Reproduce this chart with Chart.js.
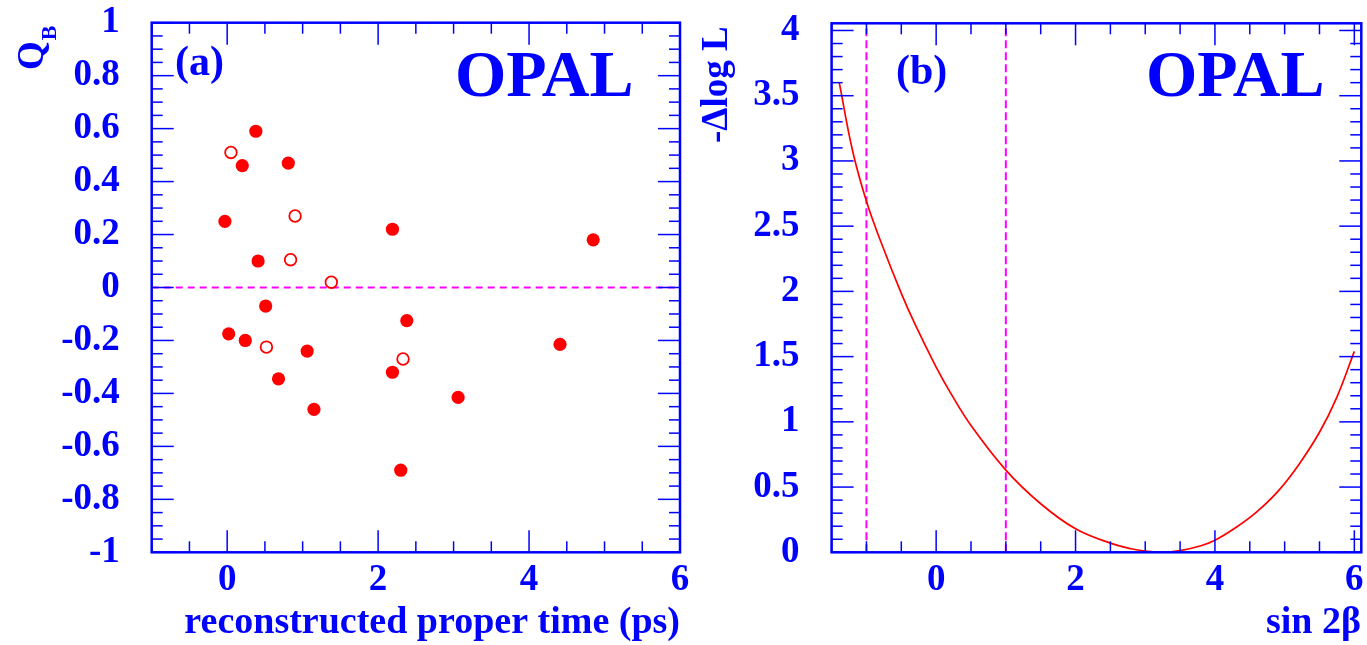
<!DOCTYPE html>
<html>
<head>
<meta charset="utf-8">
<script src="https://cdn.jsdelivr.net/npm/chart.js@4.4.1/dist/chart.umd.min.js"></script>
<style>
  html, body { margin: 0; padding: 0; background: #fff; }
  canvas { position: absolute; top: 0; }
</style>
</head>
<body>
<canvas id="panelA" width="700" height="645" style="left:0"></canvas>
<canvas id="panelB" width="667" height="645" style="left:700px"></canvas>
<script>
// (a) carga del mesón B frente al tiempo propio reconstruido
const filledTime = [0.38, 0.20, 0.81, -0.03, 2.19, 0.41, 0.51, 2.38, 0.02, 0.24, 1.06, 0.68, 1.15, 2.19, 2.30, 3.06, 4.85, 4.41];
const filledQ    = [0.59, 0.46, 0.47, 0.25, 0.22, 0.10, -0.07, -0.125, -0.175, -0.20, -0.24, -0.345, -0.46, -0.32, -0.69, -0.415, 0.18, -0.215];
const openTime   = [0.05, 0.90, 0.84, 1.38, 0.52, 2.33];
const openQ      = [0.51, 0.27, 0.105, 0.02, -0.225, -0.27];
const zeroLineT  = [-1, 6];

// (b) curva de -Δlog L frente a sin 2β
const sin2b  = [-1.39, -1.2, -1.0, -0.8, -0.5, -0.3, 0.0, 0.2, 0.5, 1.0, 1.5, 2.0, 2.5, 2.8, 3.0, 3.25, 3.5, 3.8, 4.0, 4.3, 4.6, 4.9, 5.2, 5.5, 5.75, 6.0];
const dlogL  = [3.60, 3.08, 2.69, 2.39, 1.985, 1.745, 1.42, 1.228, 0.972, 0.63, 0.372, 0.18, 0.07, 0.027, 0.01, 0.0, 0.013, 0.05, 0.092, 0.19, 0.31, 0.465, 0.67, 0.92, 1.19, 1.54];
const limitLines = [-1, 1];

// etiquetas de los ejes
const qTicks   = [-1, -0.8, -0.6, -0.4, -0.2, 0, 0.2, 0.4, 0.6, 0.8, 1];
const tTicks   = [0, 2, 4, 6];
const lTicks   = [0, 0.5, 1, 1.5, 2, 2.5, 3, 3.5, 4];
const sTicks   = [0, 2, 4, 6];

const BLUE = '#0000ff';
const RED = '#ff0000';
const MAGENTA = '#ff00ff';
const SERIF = '"Liberation Serif", "Times New Roman", serif';

function pts(xs, ys) {
	return xs.map((x, i) => ({ x: x, y: ys[i] }));
}

function tickFont() {
	return { family: SERIF, size: 37, weight: 'bold', lineHeight: 1 };
}

// marco con marcas hacia dentro, como en ROOT
const frameTicks = {
	id: 'frameTicks',
	afterDatasetsDraw(chart, args, o) {
		const { ctx, chartArea: a, scales } = chart;
		const x = scales.x, y = scales.y;
		ctx.save();
		ctx.strokeStyle = BLUE;
		ctx.lineWidth = 1.5;
		function seg(x1, y1, x2, y2) {
			ctx.beginPath(); ctx.moveTo(x1, y1); ctx.lineTo(x2, y2); ctx.stroke();
		}
		function isMajor(v, step) {
			return Math.abs(v / step - Math.round(v / step)) < 1e-6;
		}
		let start = Math.ceil(x.min / o.xMinor - 1e-6) * o.xMinor;
		let n = Math.floor((x.max - start) / o.xMinor + 1e-6);
		for (let i = 0; i <= n; i++) {
			const v = start + i * o.xMinor;
			const px = x.getPixelForValue(v);
			const len = isMajor(v, o.xMajor) ? 22 : 11;
			seg(px, a.bottom, px, a.bottom - len);
			seg(px, a.top, px, a.top + len);
		}
		start = Math.ceil(y.min / o.yMinor - 1e-6) * o.yMinor;
		n = Math.floor((y.max - start) / o.yMinor + 1e-6);
		for (let i = 0; i <= n; i++) {
			const v = start + i * o.yMinor;
			const py = y.getPixelForValue(v);
			const len = isMajor(v, o.yMajor) ? 22 : 11;
			seg(a.left, py, a.left + len, py);
			seg(a.right, py, a.right - len, py);
		}
		ctx.lineWidth = 2.5;
		ctx.strokeRect(a.left, a.top, a.right - a.left, a.bottom - a.top);
		ctx.restore();
	}
};

// textos sueltos: títulos, (a)/(b), OPAL
const labels = {
	id: 'labels',
	afterDraw(chart, args, o) {
		const ctx = chart.ctx;
		ctx.save();
		ctx.fillStyle = BLUE;
		ctx.textBaseline = 'alphabetic';
		o.items.forEach(t => {
			ctx.save();
			ctx.font = 'bold ' + t.size + 'px ' + SERIF;
			ctx.textAlign = t.align || 'left';
			ctx.translate(t.x, t.y);
			if (t.rotate) ctx.rotate(-Math.PI / 2);
			ctx.fillText(t.text, 0, 0);
			if (t.sub) {
				const w = ctx.measureText(t.text).width;
				ctx.font = 'bold ' + t.sub.size + 'px ' + SERIF;
				ctx.fillText(t.sub.text, w + 1, t.sub.dy);
			}
			ctx.restore();
		});
		ctx.restore();
	}
};

function axisX(min, max, ticks, h) {
	return {
		type: 'linear', min: min, max: max,
		grid: { display: false, drawTicks: false },
		border: { display: false },
		ticks: { font: tickFont(), color: BLUE, padding: 10, maxRotation: 0, autoSkip: false },
		afterBuildTicks: (axis) => { axis.ticks = ticks.map(v => ({ value: v })); },
		afterFit: (s) => { s.height = h; s.paddingLeft = 0; s.paddingRight = 0; }
	};
}

function axisY(min, max, ticks, w) {
	return {
		type: 'linear', min: min, max: max,
		grid: { display: false, drawTicks: false },
		border: { display: false },
		ticks: { font: tickFont(), color: BLUE, padding: 32, autoSkip: false,
			callback: (v) => String(+Number(v).toFixed(2)) },
		afterBuildTicks: (axis) => { axis.ticks = ticks.map(v => ({ value: v })); },
		afterFit: (s) => { s.width = w; s.paddingTop = 0; s.paddingBottom = 0; }
	};
}

new Chart(document.getElementById('panelA'), {
	type: 'scatter',
	data: {
		datasets: [
			{ data: pts(filledTime, filledQ), pointRadius: 6.6, backgroundColor: RED, borderWidth: 0, order: 1 },
			{ data: pts(openTime, openQ), pointRadius: 5.8, backgroundColor: '#ffffff', borderColor: RED, borderWidth: 1.8, order: 1 },
			{ data: pts(zeroLineT, [0, 0]), showLine: true, borderColor: MAGENTA, borderWidth: 2,
			  borderDash: [7, 5], pointRadius: 0, order: 3 }
		]
	},
	options: {
		responsive: false, animation: false, events: [],
		layout: { padding: { left: 0, top: 22.7, right: 20, bottom: 0 } },
		scales: { x: axisX(-1, 6, tTicks, 92.7), y: axisY(-1, 1, qTicks, 151.7) },
		plugins: {
			legend: { display: false }, tooltip: { enabled: false },
			frameTicks: { xMajor: 2, xMinor: 0.5, yMajor: 0.2, yMinor: 0.05 },
			labels: { items: [
				{ text: '(a)', size: 42, x: 175, y: 74.5 },
				{ text: 'OPAL', size: 66, x: 455, y: 96 },
				{ text: 'Q', size: 37, x: 43, y: 70, rotate: true, sub: { text: 'B', size: 22, dy: 13 } },
				{ text: 'reconstructed proper time (ps)', size: 38, x: 680, y: 633, align: 'right' }
			] }
		}
	},
	plugins: [frameTicks, labels]
});

new Chart(document.getElementById('panelB'), {
	type: 'scatter',
	data: {
		datasets: [
			{ data: pts(sin2b, dlogL), showLine: true, borderColor: RED, borderWidth: 1.7,
			  tension: 0.4, pointRadius: 0, order: 1 },
			{ data: pts([limitLines[0], limitLines[0]], [0, 4.06]), showLine: true, borderColor: MAGENTA,
			  borderWidth: 2, borderDash: [8, 4], pointRadius: 0, order: 2 },
			{ data: pts([limitLines[1], limitLines[1]], [0, 4.06]), showLine: true, borderColor: MAGENTA,
			  borderWidth: 2, borderDash: [8, 4], pointRadius: 0, order: 2 }
		]
	},
	options: {
		responsive: false, animation: false, events: [],
		layout: { padding: { left: 0, top: 23.3, right: 5.7, bottom: 0 } },
		scales: { x: axisX(-1.5, 6.1, sTicks, 92.7), y: axisY(0, 4.055, lTicks, 131.6) },
		plugins: {
			legend: { display: false }, tooltip: { enabled: false },
			frameTicks: { xMajor: 2, xMinor: 0.5, yMajor: 0.5, yMinor: 0.1 },
			labels: { items: [
				{ text: '(b)', size: 42, x: 196, y: 84 },
				{ text: 'OPAL', size: 66, x: 446, y: 96 },
				{ text: '-\u0394log L', size: 37, x: 27, y: 143, rotate: true },
				{ text: 'sin 2\u03b2', size: 38, x: 661, y: 633, align: 'right' }
			] }
		}
	},
	plugins: [frameTicks, labels]
});
</script>
</body>
</html>
